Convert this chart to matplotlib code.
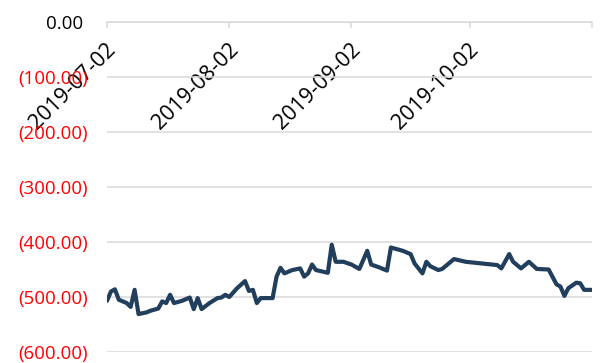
import matplotlib
matplotlib.use("Agg")
import matplotlib.pyplot as plt
import matplotlib.dates as mdates
import matplotlib.transforms as mtransforms
from matplotlib.ticker import FixedLocator, FuncFormatter
import pandas as pd

plt.rcParams["font.family"] = ["Open Sans", "DejaVu Sans"]

# ---------- datos ----------
fechas = [
    "2019-07-02", "2019-07-03", "2019-07-04", "2019-07-05", "2019-07-07",
    "2019-07-08", "2019-07-09", "2019-07-10", "2019-07-12", "2019-07-13",
    "2019-07-15", "2019-07-16", "2019-07-17", "2019-07-18", "2019-07-19",
    "2019-07-21", "2019-07-23", "2019-07-24", "2019-07-25", "2019-07-26",
    "2019-07-28", "2019-07-30", "2019-07-31", "2019-08-01", "2019-08-02",
    "2019-08-04", "2019-08-06", "2019-08-07", "2019-08-08", "2019-08-09",
    "2019-08-10", "2019-08-13", "2019-08-14", "2019-08-15", "2019-08-16",
    "2019-08-18", "2019-08-20", "2019-08-21", "2019-08-22", "2019-08-23",
    "2019-08-24", "2019-08-27", "2019-08-28", "2019-08-29", "2019-08-31",
    "2019-09-02", "2019-09-04", "2019-09-06", "2019-09-07", "2019-09-09",
    "2019-09-11", "2019-09-12", "2019-09-15", "2019-09-17", "2019-09-18",
    "2019-09-20", "2019-09-21", "2019-09-22", "2019-09-24", "2019-09-25",
    "2019-09-27", "2019-09-28", "2019-10-01", "2019-10-05", "2019-10-09",
    "2019-10-10", "2019-10-12", "2019-10-13", "2019-10-15", "2019-10-17",
    "2019-10-19", "2019-10-22", "2019-10-24", "2019-10-25", "2019-10-26",
    "2019-10-27", "2019-10-29", "2019-10-30", "2019-10-31", "2019-11-02",
]
valores = [
    -507, -490, -486, -505, -511,
    -518, -487, -531, -528, -525,
    -521, -508, -511, -496, -511,
    -507, -501, -522, -502, -522,
    -511, -502, -501, -496, -500,
    -484, -471, -489, -487, -511,
    -502, -502, -463, -447, -457,
    -451, -448, -463, -457, -441,
    -451, -456, -405, -436, -436,
    -441, -449, -416, -441, -446,
    -452, -410, -416, -422, -439,
    -457, -436, -444, -451, -449,
    -437, -431, -436, -439, -442,
    -448, -422, -436, -448, -436,
    -449, -450, -477, -481, -498,
    -484, -474, -475, -487, -487,
]
fechas_eje = ["2019-07-02", "2019-08-02", "2019-09-02", "2019-10-02", "2019-11-02"]
etiquetas_x = ["2019-07-02", "2019-08-02", "2019-09-02", "2019-10-02", ""]
niveles_y = [0, -100, -200, -300, -400, -500, -600]

x = pd.to_datetime(fechas)
ticks_x = mdates.date2num(pd.to_datetime(fechas_eje))

# ---------- figura ----------
fig = plt.figure(figsize=(6.0, 3.63), dpi=100)
ax = fig.add_axes([107 / 600, 1 - 352 / 363, 485 / 600, 330 / 363])

gris = "#d9d9d9"
ax.plot(x, valores, color="#213f5c", lw=3.0, solid_joinstyle="round",
        solid_capstyle="round", zorder=3)

ax.set_xlim(ticks_x[0], ticks_x[-1])
ax.set_ylim(-600, 0)

# eje de fechas sobre la linea del cero
for s in ["top", "right", "left"]:
    ax.spines[s].set_visible(False)
ax.spines["bottom"].set_position(("data", 0))
ax.spines["bottom"].set_color(gris)
ax.spines["bottom"].set_linewidth(1.1)
ax.spines["bottom"].set_zorder(1)

ax.xaxis.set_major_locator(FixedLocator(ticks_x))
ax.set_xticklabels(etiquetas_x, rotation=45, ha="right", va="center",
                   rotation_mode="anchor", fontsize=15.5)
ax.tick_params(axis="x", direction="out", length=4, width=1.1, color=gris,
               pad=14, labelcolor="black")
desplaza = mtransforms.ScaledTranslation(6 / 100, 0, fig.dpi_scale_trans)
for lbl in ax.get_xticklabels():
    lbl.set_transform(lbl.get_transform() + desplaza)

# eje y con formato contable
ax.yaxis.set_major_locator(FixedLocator(niveles_y))
ax.yaxis.set_major_formatter(FuncFormatter(
    lambda v, _: f"({abs(v):,.2f})" if v < 0 else f"{v:,.2f} "))
ax.tick_params(axis="y", length=0, pad=14, labelsize=13.5)
for lbl, v in zip(ax.get_yticklabels(), niveles_y):
    lbl.set_color("#ff0000" if v < 0 else "black")

ax.grid(axis="y", color=gris, lw=1.1, zorder=0)
ax.set_axisbelow(True)

fig.savefig("out.png", dpi=100)
